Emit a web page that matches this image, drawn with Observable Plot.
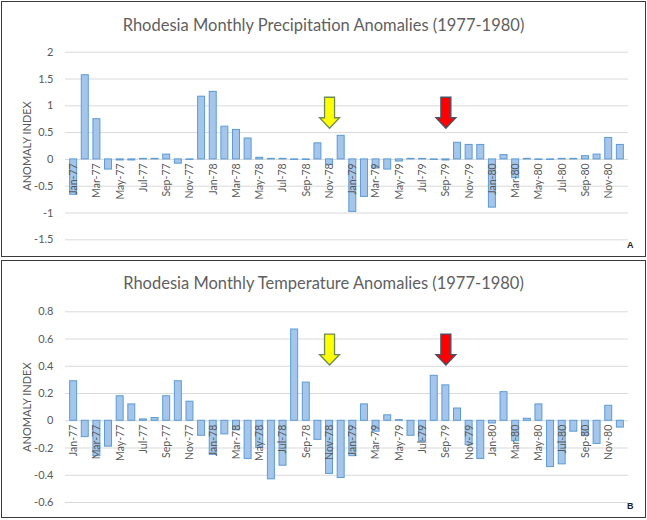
<!DOCTYPE html>
<html>
<head>
<meta charset="utf-8">
<script src="https://cdn.jsdelivr.net/npm/d3@7"></script>
<script src="https://cdn.jsdelivr.net/npm/@observablehq/plot@0.6"></script>
<style>
  html, body { margin: 0; padding: 0; background: #fff; }
  #root { position: relative; width: 647px; height: 520px; overflow: hidden; font-family: Lato, "Open Sans", sans-serif; }
  .panel { position: absolute; border: 1.5px solid #3a3a3a; box-sizing: border-box; }
  .title { position: absolute; left: 0; width: 647px; text-align: center; color: #5f5f5f; font-size: 16.5px; font-family: Lato, sans-serif; }
  .tag { position: absolute; font-weight: bold; font-size: 9px; color: #222; font-family: Arial, sans-serif; }
  .chart { position: absolute; left: 0; }
</style>
</head>
<body>
<div id="root">
  <div class="panel" style="left:1px; top:1px; width:645px; height:256px;"></div>
  <div class="panel" style="left:1px; top:260px; width:645px; height:258px;"></div>
  <div class="title" id="titleA" style="top:15px;"></div>
  <div class="title" id="titleB" style="top:273px;"></div>
  <div class="chart" id="chartA" style="top:40px;"></div>
  <div class="chart" id="chartB" style="top:300px;"></div>
  <div class="tag" id="tagA" style="left:627px; top:240px;"></div>
  <div class="tag" id="tagB" style="left:627px; top:501px;"></div>
</div>
<script>
// ---- data ----
const months = [
  "Jan-77","Feb-77","Mar-77","Apr-77","May-77","Jun-77","Jul-77","Aug-77","Sep-77","Oct-77","Nov-77","Dec-77",
  "Jan-78","Feb-78","Mar-78","Apr-78","May-78","Jun-78","Jul-78","Aug-78","Sep-78","Oct-78","Nov-78","Dec-78",
  "Jan-79","Feb-79","Mar-79","Apr-79","May-79","Jun-79","Jul-79","Aug-79","Sep-79","Oct-79","Nov-79","Dec-79",
  "Jan-80","Feb-80","Mar-80","Apr-80","May-80","Jun-80","Jul-80","Aug-80","Sep-80","Oct-80","Nov-80","Dec-80"
];
const tickMonths = [
  "Jan-77","Mar-77","May-77","Jul-77","Sep-77","Nov-77",
  "Jan-78","Mar-78","May-78","Jul-78","Sep-78","Nov-78",
  "Jan-79","Mar-79","May-79","Jul-79","Sep-79","Nov-79",
  "Jan-80","Mar-80","May-80","Jul-80","Sep-80","Nov-80"
];
const precipitation = [
  -0.66, 1.57, 0.75, -0.19, -0.02, -0.02, 0.01, 0.01, 0.09, -0.08, -0.01, 1.17,
  1.26, 0.61, 0.55, 0.39, 0.03, 0.01, 0.01, -0.01, -0.01, 0.30, -0.10, 0.44,
  -0.98, -0.70, -0.17, -0.19, -0.04, 0.01, 0.01, -0.01, -0.02, 0.31, 0.27, 0.27,
  -0.90, 0.08, -0.35, 0.01, -0.01, -0.01, 0.01, 0.01, 0.06, 0.09, 0.40, 0.27
];
const temperature = [
  0.29, -0.12, -0.26, -0.19, 0.18, 0.12, 0.01, 0.02, 0.18, 0.29, 0.14, -0.11,
  -0.25, -0.10, -0.07, -0.28, -0.20, -0.43, -0.33, 0.67, 0.28, -0.14, -0.39, -0.42,
  -0.26, 0.12, -0.08, 0.04, 0.005, -0.11, -0.15, 0.33, 0.26, 0.09, -0.18, -0.28,
  -0.02, 0.21, -0.15, 0.015, 0.12, -0.34, -0.32, -0.08, -0.11, -0.17, 0.11, -0.05
];
const yTicksA = [-1.5, -1, -0.5, 0, 0.5, 1, 1.5, 2];
const yTicksB = [-0.6, -0.4, -0.2, 0, 0.2, 0.4, 0.6, 0.8];
const arrowMonths = ["Nov-78", "Sep-79"];
const arrowFills = ["#ffff00", "#ff0000"];
const arrowStrokes = ["#6e8a55", "#44546a"];
const arrowLevelA = 0.87;   // anomaly-index level of arrow centre, panel A
const arrowLevelB = 0.523;  // panel B
const titles = ["Rhodesia Monthly Precipitation Anomalies (1977-1980)", "Rhodesia Monthly Temperature Anomalies (1977-1980)"];
const tags = ["A", "B"];
const yLabel = "ANOMALY INDEX";

document.getElementById("titleA").textContent = titles[0];
document.getElementById("titleB").textContent = titles[1];
document.getElementById("tagA").textContent = tags[0];
document.getElementById("tagB").textContent = tags[1];

// downward block arrow symbol (pixel geometry, centred on the dot)
const arrowSymbol = {
  draw(ctx) {
    ctx.moveTo(-5, -15.5);
    ctx.lineTo(5, -15.5);
    ctx.lineTo(5, 5);
    ctx.lineTo(10, 5);
    ctx.lineTo(0, 15.5);
    ctx.lineTo(-10, 5);
    ctx.lineTo(-5, 5);
    ctx.closePath();
  }
};

function makeChart(values, ticks, domain, arrowLevel, margins) {
  const rows = months.map((m, i) => ({month: m, value: values[i]}));
  const arrows = arrowMonths.map((m, i) => ({month: m, level: arrowLevel}));
  return Plot.plot({
    width: 647,
    height: 215,
    marginLeft: 65,
    marginRight: 19,
    marginTop: margins[0],
    marginBottom: margins[1],
    style: {fontFamily: "Lato, sans-serif", fontSize: "11px", color: "#595959", background: "transparent", overflow: "visible"},
    x: {type: "band", domain: months, padding: 0.4, axis: null},
    y: {domain: domain},
    marks: [
      Plot.gridY(ticks, {stroke: "#d9d9d9", strokeOpacity: 1}),
      Plot.axisY({ticks: ticks, tickSize: 0, tickPadding: 12, tickFormat: d => String(d),
                  label: yLabel, labelAnchor: "center", labelOffset: 42, labelArrow: "none", fontSize: 11}),
      Plot.barY(rows, {x: "month", y: "value", fill: "#a5c6ea", stroke: "#5b9bd5", strokeWidth: 1}),
      Plot.text(tickMonths, {x: d => d, y: () => 0, text: d => d, rotate: -90, textAnchor: "end", dy: 4, fontSize: 10.5, fill: "#595959"}),
      Plot.dot(arrows.slice(0, 1), {x: "month", y: "level", symbol: arrowSymbol, fill: arrowFills[0], stroke: arrowStrokes[0], strokeWidth: 1.3, r: 10}),
      Plot.dot(arrows.slice(1, 2), {x: "month", y: "level", symbol: arrowSymbol, fill: arrowFills[1], stroke: arrowStrokes[1], strokeWidth: 1.3, r: 10})
    ]
  });
}

document.getElementById("chartA").appendChild(makeChart(precipitation, yTicksA, [-1.5, 2], arrowLevelA, [11.7, 15.7]));
document.getElementById("chartB").appendChild(makeChart(temperature, yTicksB, [-0.6, 0.8], arrowLevelB, [11.3, 13]));
</script>
</body>
</html>
